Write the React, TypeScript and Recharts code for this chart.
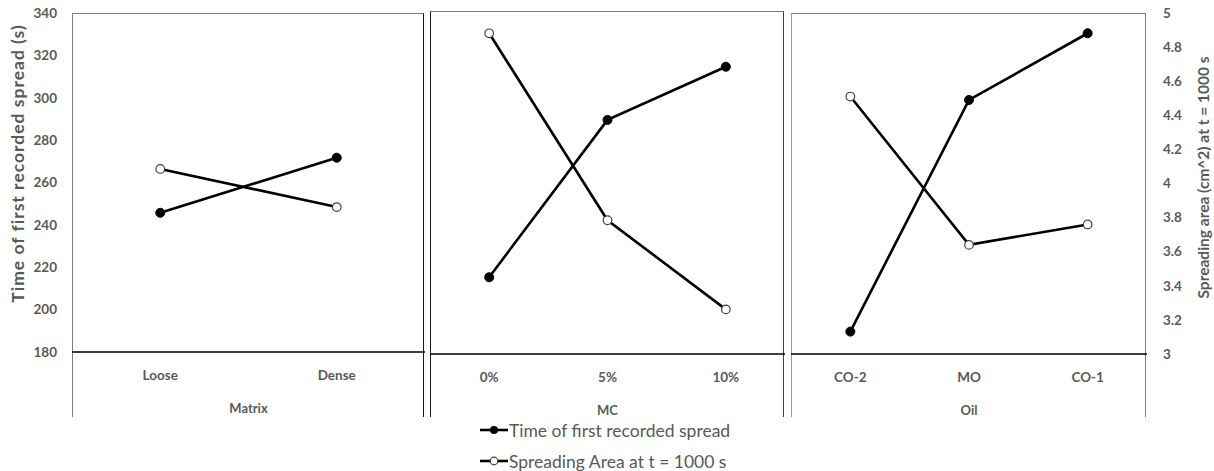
import React from 'react';
import { LineChart, Line, XAxis, YAxis } from 'recharts';

// ---- data ----
const matrixCategories = ['Loose', 'Dense'];
const matrixTime = [245.7, 271.7];
const matrixSpread = [4.08, 3.855];

const mcCategories = ['0%', '5%', '10%'];
const mcTime = [215.8, 289.2, 314];
const mcSpread = [4.87, 3.78, 3.26];

const oilCategories = ['CO-2', 'MO', 'CO-1'];
const oilTime = [190.5, 299.2, 330.5];
const oilSpread = [4.51, 3.64, 3.76];

const groupNames = ['Matrix', 'MC', 'Oil'];
const leftTicks = [180, 200, 220, 240, 260, 280, 300, 320, 340];
const rightTicks = [3, 3.2, 3.4, 3.6, 3.8, 4, 4.2, 4.4, 4.6, 4.8, 5];
const seriesNames = ['Time of first recorded spread', 'Spreading Area at t = 1000 s'];
const leftTitle = 'Time of first recorded spread (s)';
const rightTitle = 'Spreading area (cm^2) at t = 1000 s';

const build = (cats: string[], time: number[], spread: number[]) =>
  cats.map((c, i) => ({ cat: c, time: time[i], spread: spread[i] }));

const panelData = [
  build(matrixCategories, matrixTime, matrixSpread),
  build(mcCategories, mcTime, mcSpread),
  build(oilCategories, oilTime, oilSpread),
];

// ---- layout ----
const W = 1214;
const H = 471;
const FONT = 'Lato, "Open Sans", sans-serif';
const GREY = '#595959';
const AXW = 60;
const XAH = 30;
const panels = [
  { left: 72, right: 425, top: 13, bottom: 352 },
  { left: 430, right: 785, top: 11, bottom: 354 },
  { left: 791, right: 1147, top: 13, bottom: 354 },
];
const BOX_BOTTOM = 417;

const fmtRight = (v: number) => (Number.isInteger(v) ? String(v) : v.toFixed(1));

const CatTick = (props: any) => {
  const { x, y, payload } = props;
  return (
    <text x={x} y={y + 23} textAnchor="middle" dominantBaseline="central"
      fontFamily={FONT} fontSize={13.5} fontWeight={700} fill={GREY}>
      {payload.value}
    </text>
  );
};

const FilledDot = (props: any) => {
  const { cx, cy } = props;
  if (cx == null || cy == null) return null;
  return <circle cx={cx} cy={cy} r={4.5} fill="#000" stroke="#000" strokeWidth={1} />;
};
const OpenDot = (props: any) => {
  const { cx, cy } = props;
  if (cx == null || cy == null) return null;
  return <circle cx={cx} cy={cy} r={4.3} fill="#fff" stroke="#404040" strokeWidth={1.2} />;
};

function Panel({ idx }: { idx: number }) {
  const p = panels[idx];
  const showLeft = idx === 0;
  const showRight = idx === 2;
  const margin = {
    top: p.top,
    bottom: H - p.bottom - XAH,
    left: p.left - (showLeft ? AXW : 0),
    right: W - p.right - (showRight ? AXW : 0),
  };
  return (
    <div style={{ position: 'absolute', left: 0, top: 0 }}>
      <LineChart width={W} height={H} data={panelData[idx]} margin={margin}>
        <XAxis
          dataKey="cat"
          type="category"
          scale="band"
          height={XAH}
          axisLine={{ stroke: '#000', strokeWidth: 1.3 }}
          tickLine={false}
          tickSize={0}
          tickMargin={0}
          tick={<CatTick />}
          interval={0}
          label={{
            content: (lp: any) => {
              const vb = lp.viewBox;
              return (
                <text x={vb.x + vb.width / 2} y={vb.y + 56} textAnchor="middle" dominantBaseline="central"
                  fontFamily={FONT} fontSize={13} fontWeight={700} fill={GREY}>
                  {groupNames[idx]}
                </text>
              );
            },
          }}
        />
        <YAxis
          yAxisId="left"
          orientation="left"
          domain={[180, 340]}
          ticks={leftTicks}
          hide={!showLeft}
          width={AXW}
          axisLine={false}
          tickLine={false}
          tickSize={0}
          tickMargin={15}
          tick={{ fontFamily: FONT, fontSize: 13.5, fontWeight: 700, fill: GREY }}
          label={{
            content: (lp: any) => {
              const vb = lp.viewBox;
              const cx = vb.x + 5;
              const cy = vb.y + vb.height / 2 - 19;
              return (
                <text x={cx} y={cy} transform={`rotate(-90 ${cx} ${cy})`} textAnchor="middle"
                  dominantBaseline="central" fontFamily={FONT} fontSize={17.5} fontWeight={700}
                  letterSpacing={1} fill={GREY}>
                  {leftTitle}
                </text>
              );
            },
          }}
        />
        <YAxis
          yAxisId="right"
          orientation="right"
          domain={[3, 5]}
          ticks={rightTicks}
          hide={!showRight}
          width={AXW}
          axisLine={false}
          tickLine={false}
          tickSize={0}
          tickMargin={16}
          tickFormatter={fmtRight}
          tick={{ fontFamily: FONT, fontSize: 13.5, fontWeight: 700, fill: GREY, textAnchor: 'start' }}
          label={{
            content: (lp: any) => {
              const vb = lp.viewBox;
              const cx = vb.x + 56;
              const cy = vb.y + vb.height / 2 - 6;
              return (
                <text x={cx} y={cy} transform={`rotate(-90 ${cx} ${cy})`} textAnchor="middle"
                  dominantBaseline="central" fontFamily={FONT} fontSize={15.5} fontWeight={700} fill={GREY}>
                  {rightTitle}
                </text>
              );
            },
          }}
        />
        <Line yAxisId="right" dataKey="spread" name={seriesNames[1]} stroke="#000" strokeWidth={2.6}
          dot={<OpenDot />} activeDot={false} isAnimationActive={false} />
        <Line yAxisId="left" dataKey="time" name={seriesNames[0]} stroke="#000" strokeWidth={2.6}
          dot={<FilledDot />} activeDot={false} isAnimationActive={false} />
      </LineChart>
    </div>
  );
}

function Borders() {
  return (
    <>
      {panels.map((p, i) => (
        <div key={i} style={{
          position: 'absolute', left: p.left, top: p.top, width: p.right - p.left - 1,
          height: BOX_BOTTOM - p.top, boxSizing: 'border-box',
          borderTop: '1.5px solid #7f7f7f',
          borderLeft: `1.5px solid ${i === 0 ? '#7f7f7f' : i === 1 ? '#1a1a1a' : '#9a9a9a'}`,
          borderRight: `1.5px solid ${i === 0 ? '#1a1a1a' : i === 1 ? '#404040' : '#7f7f7f'}`,
        }} />
      ))}
    </>
  );
}

function LegendRow({ filled, label, top }: { filled: boolean; label: string; top: number }) {
  return (
    <div style={{ position: 'absolute', left: 479, top, height: 20, display: 'flex', alignItems: 'center' }}>
      <svg width={30} height={12} style={{ display: 'block' }}>
        <line x1={1} y1={6} x2={29} y2={6} stroke="#000" strokeWidth={2.6} />
        {filled
          ? <circle cx={15} cy={6} r={4} fill="#000" />
          : <circle cx={15} cy={6} r={3.8} fill="#fff" stroke="#404040" strokeWidth={1.2} />}
      </svg>
      <span style={{ fontFamily: FONT, fontSize: 17.5, color: GREY, whiteSpace: 'nowrap' }}>{label}</span>
    </div>
  );
}

export default function App() {
  return (
    <div style={{ position: 'absolute', left: 0, top: 0, width: W, height: H, background: '#fff', overflow: 'hidden' }}>
      <Borders />
      {panels.map((_, i) => <Panel key={i} idx={i} />)}
      <LegendRow filled label={seriesNames[0]} top={420} />
      <LegendRow filled={false} label={seriesNames[1]} top={451} />
    </div>
  );
}
